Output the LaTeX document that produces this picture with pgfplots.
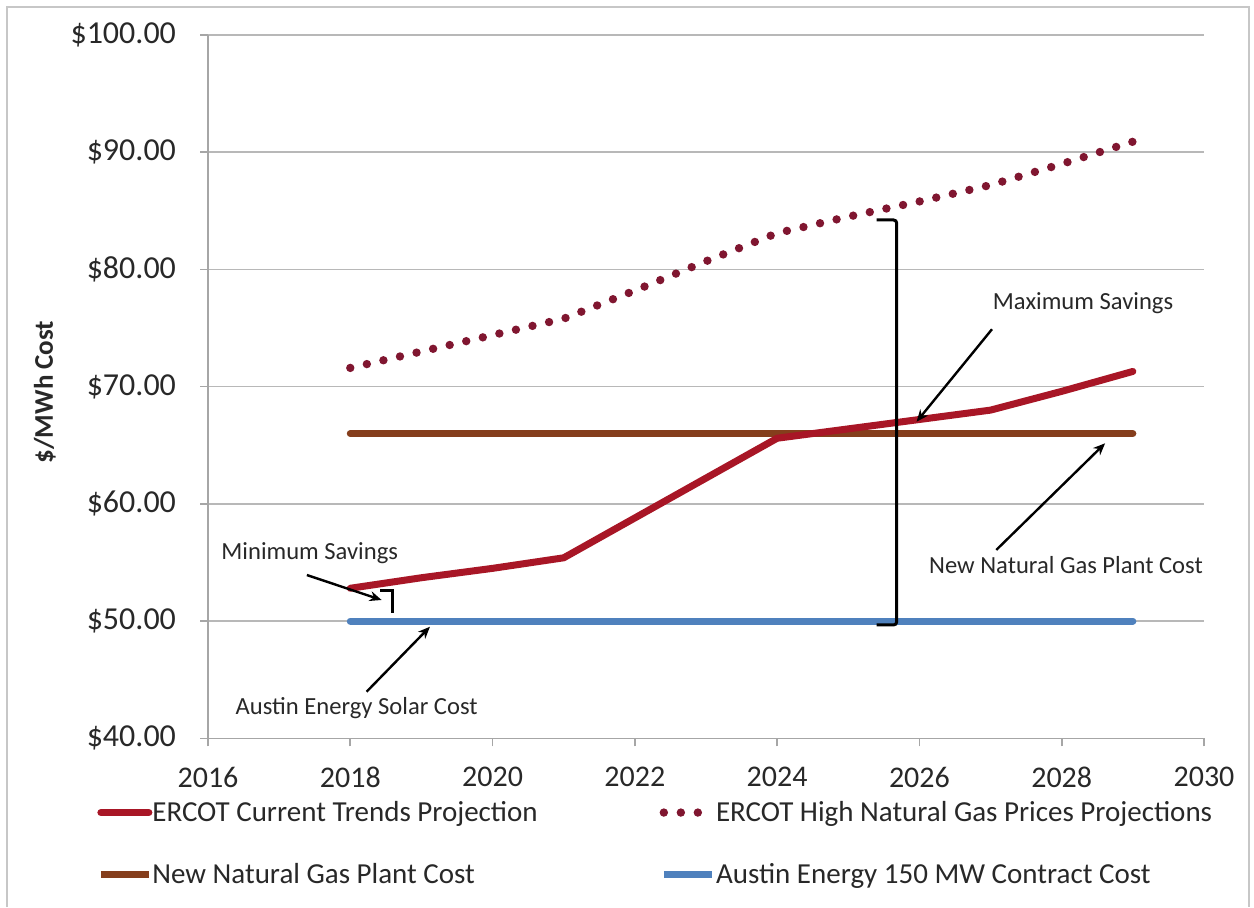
\documentclass[border=0pt]{standalone}
\usepackage{fontspec}
\setmainfont{Carlito}
\usepackage{pgfplots}
\pgfplotsset{compat=1.18}
\usetikzlibrary{arrows.meta}
\definecolor{cRed}{RGB}{168,22,38}
\definecolor{cDot}{RGB}{128,22,48}
\definecolor{cBrown}{RGB}{133,62,28}
\definecolor{cBlue}{RGB}{79,129,189}
\definecolor{cTxt}{RGB}{40,40,40}
\begin{document}
\begin{tikzpicture}
\useasboundingbox (0,0) rectangle (627pt,-453.5pt);
\draw[black!22, line width=0.8pt] (3.5pt,-453.5pt) -- (3.5pt,-3.5pt) -- (624.5pt,-3.5pt) -- (624.5pt,-453.5pt);
\begin{axis}[
  at={(104pt,-369.15pt)}, anchor=south west,
  scale only axis, width=498pt, height=351.65pt,
  xmin=2016, xmax=2030, ymin=40, ymax=100,
  xtick={2016,2018,2020,2022,2024,2026,2028,2030},
  xticklabels={2016,2018,2020,2022,2024,2026,2028,2030},
  ytick={40,50,60,70,80,90,100},
  yticklabels={\$40.00,\$50.00,\$60.00,\$70.00,\$80.00,\$90.00,\$100.00},
  axis x line*=bottom, axis y line*=left,
  axis line style={draw=black!35, line width=0.8pt},
  tick align=outside, major tick length=4pt,
  tick style={draw=black!35, line width=0.8pt},
  ymajorgrids, grid style={draw=black!28, line width=0.8pt},
  ticklabel style={text=cTxt},
  xticklabel style={font=\fontsize{15}{17}\selectfont, yshift=-7pt},
  yticklabel style={font=\fontsize{16}{19}\selectfont, xshift=-8.5pt},
  ylabel={\$/MWh Cost},
  ylabel style={font=\bfseries\fontsize{13.5}{16}\selectfont, text=cTxt, at={(axis description cs:-0.1637,0.4924)}, anchor=center},
  clip=false,
  legend columns=2,
  legend cell align=left,
  legend style={at={(axis description cs:-0.1175,-0.080)}, anchor=north west, draw=none, fill=none,
    font=\fontsize{14.5}{17}\selectfont, text=cTxt, row sep=17.5pt,
    nodes={inner xsep=0pt, inner ysep=1pt},
    /tikz/every even column/.append style={column sep=61pt}},
  legend image code/.code={\draw[#1] (0pt,0pt) -- (24pt,0pt);},
]
% background series
\addplot[forget plot, cBrown, line width=3.5pt, line cap=round] coordinates {
(2018,66) (2019,66) (2020,66) (2021,66) (2022,66) (2023,66) (2024,66) (2025,66) (2026,66) (2027,66) (2028,66) (2029,66)};
\addplot[forget plot, cBlue, line width=3.5pt, line cap=round] coordinates {
(2018,50) (2019,50) (2020,50) (2021,50) (2022,50) (2023,50) (2024,50) (2025,50) (2026,50) (2027,50) (2028,50) (2029,50)};
% ERCOT current trends
\addplot[cRed, line width=3.5pt, line cap=round, line join=round] coordinates {
(2018,52.8) (2019,53.7) (2020,54.5) (2021,55.4) (2022,58.8) (2023,62.2) (2024,65.6) (2025,66.4) (2026,67.2) (2027,68.0) (2028,69.6) (2029,71.3)};
\addlegendentry{ERCOT Current Trends Projection}
% ERCOT high gas
\addplot[cDot, line width=4.2pt, line cap=round, dash pattern=on 0pt off 8.5pt] coordinates {
(2018,71.6) (2019,73.0) (2020,74.4) (2021,75.8) (2022,78.2) (2023,80.7) (2024,83.1) (2025,84.5) (2026,85.8) (2027,87.2) (2028,89.0) (2029,90.9)};
\addlegendentry{ERCOT High Natural Gas Prices Projections}
\addlegendimage{cBrown, line width=3.5pt}
\addlegendentry{New Natural Gas Plant Cost}
\addlegendimage{cBlue, line width=3.5pt}
\addlegendentry{Austin Energy 150 MW Contract Cost}
% annotations
\draw[black, line width=1.5pt, rounded corners=1.5pt] (axis cs:2025.40,84.22) -- (axis cs:2025.68,84.22) -- (axis cs:2025.68,49.67) -- (axis cs:2025.40,49.67);
\draw[black, line width=1.5pt] (axis cs:2018.42,52.65) -- (axis cs:2018.60,52.65) -- (axis cs:2018.60,50.69);
\draw[black, line width=1.2pt, -{Stealth[length=6pt,width=5pt]}] (axis cs:2017.39,53.93) -- (axis cs:2018.44,51.80);
\draw[black, line width=1.2pt, -{Stealth[length=6pt,width=5pt]}] (axis cs:2018.23,43.98) -- (axis cs:2019.12,49.52);
\draw[black, line width=1.2pt, -{Stealth[length=6pt,width=5pt]}] (axis cs:2027.02,74.90) -- (axis cs:2025.96,67.01);
\draw[black, line width=1.2pt, -{Stealth[length=6pt,width=5pt]}] (axis cs:2027.08,56.07) -- (axis cs:2028.61,65.17);
\node[font=\fontsize{12.3}{14}\selectfont, text=cTxt] at (axis cs:2017.43,55.76) {Minimum Savings};
\node[font=\fontsize{12.3}{14}\selectfont, text=cTxt] at (axis cs:2018.09,42.56) {Austin Energy Solar Cost};
\node[font=\fontsize{12.3}{14}\selectfont, text=cTxt] at (axis cs:2028.30,77.13) {Maximum Savings};
\node[font=\fontsize{12.3}{14}\selectfont, text=cTxt] at (axis cs:2028.06,54.81) {New Natural Gas Plant Cost};
\end{axis}
\end{tikzpicture}
\end{document}
